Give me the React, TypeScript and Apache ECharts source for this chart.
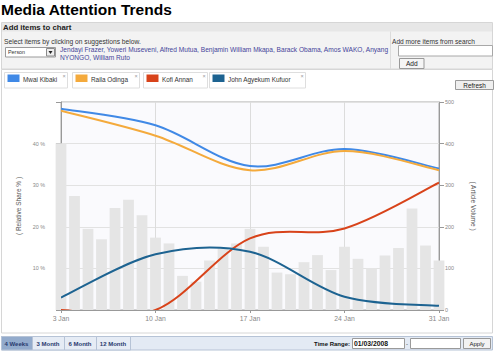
import React, { useEffect, useRef } from "react";
import * as echarts from "echarts";

const days = [
  "3 Jan", "4 Jan", "5 Jan", "6 Jan", "7 Jan", "8 Jan", "9 Jan", "10 Jan", "11 Jan", "12 Jan",
  "13 Jan", "14 Jan", "15 Jan", "16 Jan", "17 Jan", "18 Jan", "19 Jan", "20 Jan", "21 Jan", "22 Jan",
  "23 Jan", "24 Jan", "25 Jan", "26 Jan", "27 Jan", "28 Jan", "29 Jan", "30 Jan", "31 Jan",
];
const articleVolume = [
  401, 274, 195, 170, 245, 265, 228, 174, 160, 82, 68, 119, 148, 160, 195, 152, 90, 86, 115, 132,
  96, 152, 123, 101, 131, 149, 244, 155, 119,
];
// day index (from 3 Jan) of the weekly share readings: 3, 10, 17, 24, 31 Jan
const weekIndex = [0, 7, 14, 21, 28];
const kibaki = [48.4, 44.4, 34.6, 38.7, 34.0];
const raila = [47.9, 41.9, 33.6, 38.2, 33.6];
const annan = [0, 0, 17.2, 19.6, 30.6];
const kufuor = [3.0, 13.4, 14.0, 3.2, 1.0];

const seriesNames = ["Mwai Kibaki", "Raila Odinga", "Kofi Annan", "John Agyekum Kufuor"];
const seriesColors = ["#4089e6", "#f4aa3c", "#d8431a", "#1d6391"];
const leftTickLabels = ["", "10 %", "20 %", "30 %", "40 %", ""];
const rightTickLabels = ["0", "100", "200", "300", "400", "500"];
const suggestions1 = "Jendayi Frazer, Yoweri Museveni, Alfred Mutua, Benjamin William Mkapa, Barack Obama, Amos WAKO, Anyang";
const suggestions2 = "NYONGO, William Ruto";
const tabs = ["4 Weeks", "3 Month", "6 Month", "12 Month"];

const FONT = "Liberation Sans, Arial, sans-serif";

function txt(x: number, y: number, text: string, size: number, fill: string, opts: any = {}) {
  return {
    type: "text",
    x,
    y,
    silent: true,
    z: 10,
    style: {
      text,
      fontSize: size,
      fontFamily: FONT,
      fontWeight: opts.bold ? "bold" : "normal",
      fill,
      align: opts.align || "left",
      verticalAlign: "middle",
    },
  };
}
function box(x: number, y: number, w: number, h: number, fill: string, stroke?: string, z = 1) {
  return {
    type: "rect",
    silent: true,
    z,
    shape: { x, y, width: w, height: h },
    style: { fill, stroke: stroke || null, lineWidth: stroke ? 1 : 0 },
  };
}

// Catmull-Rom spline through pixel points (from the axes' scales) as an SVG path
function splinePath(p: number[][]) {
  let d = `M${p[0][0]},${p[0][1]}`;
  for (let i = 0; i < p.length - 1; i++) {
    const p0 = p[Math.max(i - 1, 0)];
    const p1 = p[i];
    const p2 = p[i + 1];
    const p3 = p[Math.min(i + 2, p.length - 1)];
    const c1x = p1[0] + (p2[0] - p0[0]) / 6;
    const c1y = p1[1] + (p2[1] - p0[1]) / 6;
    const c2x = p2[0] - (p3[0] - p1[0]) / 6;
    const c2y = p2[1] - (p3[1] - p1[1]) / 6;
    d += ` C${c1x},${c1y} ${c2x},${c2y} ${p2[0]},${p2[1]}`;
  }
  return d;
}

export default function App() {
  const ref = useRef<HTMLDivElement>(null);
  useEffect(() => {
    if (!ref.current) return;
    const chart = echarts.init(ref.current, undefined, { renderer: "svg" });

    const chipX = [
      [4, 67],
      [72, 139],
      [143, 207],
      [209, 305],
    ];
    const chips: any[] = [];
    seriesNames.forEach((n, i) => {
      const [a, b] = chipX[i];
      chips.push(box(a + 0.5, 72.5, b - a, 15.5, "#ffffff", "#dedede", 2));
      chips.push(box(a + 3.5, 74.5, 12, 7.5, seriesColors[i], undefined, 3));
      chips.push(txt(a + 19, 79.5, n, 6.4, "#333", {}));
      chips.push(txt(b - 3, 75.5, "×", 5.5, "#999", { align: "center" }));
    });

    const tabX = [
      [1, 32],
      [32, 64],
      [64, 96],
      [96, 130],
    ];
    const tabEls: any[] = [];
    tabs.forEach((t, i) => {
      const [a, b] = tabX[i];
      tabEls.push(box(a + 0.5, 336.5, b - a, 13.5, i === 0 ? "#93abcc" : "#e6ecf5", "#b6c3d6", 3));
      tabEls.push(txt((a + b) / 2, 343.5, t, 6, "#283a6e", { bold: true, align: "center" }));
    });

    const graphic: any[] = [
      txt(1, 9.5, "Media Attention Trends", 15.5, "#000", { bold: true }),
      box(1.5, 22.5, 491, 46.5, "#f3f3f3", "#d6d6d6", 1),
      box(2, 23, 490, 8.5, "#e7e7e7", undefined, 2),
      txt(3, 27, "Add items to chart", 7.8, "#222", { bold: true }),
      { type: "line", silent: true, z: 2, shape: { x1: 390.5, y1: 31.5, x2: 390.5, y2: 69 }, style: { stroke: "#dcdcdc", lineWidth: 1 } },
      txt(4, 41, "Select items by clicking on suggestions below.", 6.7, "#333"),
      box(5.5, 47.5, 50, 9.5, "#ffffff", "#9a9a9a", 2),
      txt(8, 52.3, "Person", 5.4, "#333"),
      box(46.5, 48.5, 8, 7.5, "#eeeeee", "#8a8a8a", 3),
      { type: "polygon", silent: true, z: 4, shape: { points: [[48.5, 51], [52.5, 51], [50.5, 54]] }, style: { fill: "#222" } },
      txt(60, 49, suggestions1, 6.6, "#45459a"),
      txt(60, 57, suggestions2, 6.6, "#45459a"),
      txt(392, 41, "Add more items from search", 6.6, "#333"),
      box(398.5, 45.5, 94, 10.5, "#ffffff", "#a8a8a8", 2),
      box(399.5, 58.5, 24.5, 10, "#f5f5f5", "#999999", 2),
      txt(411.8, 63.5, "Add", 6.6, "#222", { align: "center" }),
      box(1.5, 69.5, 491, 263.5, "rgba(0,0,0,0)", "#d6d6d6", 0),
      ...chips,
      box(455.5, 80.5, 38, 9, "#efefef", "#9a9a9a", 2),
      txt(474.5, 85, "Refresh", 6.4, "#222", { align: "center" }),
      box(1.5, 336.5, 491, 13.5, "#e3eaf4", "#b6c3d6", 2),
      ...tabEls,
      txt(350, 343.5, "Time Range:", 6, "#111", { bold: true, align: "right" }),
      box(352.5, 338.5, 52, 10, "#ffffff", "#9a9a9a", 3),
      txt(354, 343.5, "01/03/2008", 6.8, "#111", { bold: true }),
      txt(407, 343.5, "-", 6, "#333", { align: "center" }),
      box(410.5, 338.5, 50, 10, "#ffffff", "#9a9a9a", 3),
      box(463.5, 338.5, 27, 10, "#f2f2f2", "#999999", 3),
      txt(477, 343.5, "Apply", 6, "#222", { align: "center" }),
    ];

    const lineSeries = [kibaki, raila, annan, kufuor].map((w, i) => {
      const data = w.map((v, k) => [weekIndex[k], v]);
      return {
        name: seriesNames[i],
        type: "custom",
        xAxisIndex: 1,
        yAxisIndex: 0,
        data,
        clip: true,
        z: 3 + i,
        renderItem: (params: any, api: any) => {
          if (params.dataIndex !== 0) return { type: "group", children: [] };
          const pts = data.map((d) => api.coord(d));
          return {
            type: "path",
            shape: { pathData: splinePath(pts) },
            style: { fill: "none", stroke: seriesColors[i], lineWidth: 2 },
          };
        },
      };
    });

    chart.setOption({
      animation: false,
      graphic,
      grid: {
        left: 61,
        right: 61,
        top: 102,
        bottom: 43,
        show: true,
        backgroundColor: "#fafafd",
        borderColor: "#aaaaaa",
        borderWidth: 1,
      },
      xAxis: [
        {
          type: "category",
          data: days,
          boundaryGap: false,
          axisLine: { lineStyle: { color: "#999" } },
          axisTick: { interval: 6, length: 3, lineStyle: { color: "#999" } },
          axisLabel: { interval: 6, fontSize: 6.8, color: "#888", fontFamily: FONT, margin: 5 },
          splitLine: { show: true, interval: 6, lineStyle: { color: "#dcdcdc" } },
        },
        {
          type: "value",
          min: 0,
          max: days.length - 1,
          show: false,
          splitLine: { show: false },
        },
      ],
      yAxis: [
        {
          type: "value",
          min: 0,
          max: 50,
          interval: 10,
          position: "left",
          name: "( Relative Share % )",
          nameLocation: "middle",
          nameRotate: 90,
          nameGap: 33,
          nameTextStyle: { fontSize: 6.5, color: "#555", fontFamily: FONT },
          axisLine: { show: true, lineStyle: { color: "#999" } },
          axisTick: { show: true, length: 5, lineStyle: { color: "#999" } },
          axisLabel: {
            fontSize: 5.4,
            color: "#888",
            fontFamily: FONT,
            margin: 16,
            formatter: (v: number) => leftTickLabels[Math.round(v / 10)] ?? "",
          },
          splitLine: { show: true, lineStyle: { color: "#e2e2e2" } },
        },
        {
          type: "value",
          min: 0,
          max: 500,
          interval: 100,
          position: "right",
          name: "( Article Volume )",
          nameLocation: "middle",
          nameRotate: -90,
          nameGap: 31,
          nameTextStyle: { fontSize: 6.5, color: "#555", fontFamily: FONT },
          axisLine: { show: true, lineStyle: { color: "#999" } },
          axisTick: { show: true, length: 5, lineStyle: { color: "#999" } },
          axisLabel: {
            fontSize: 5.4,
            color: "#888",
            fontFamily: FONT,
            margin: 6,
            formatter: (v: number) => rightTickLabels[Math.round(v / 100)] ?? "",
          },
          splitLine: { show: false },
        },
      ],
      series: [
        {
          name: "Article Volume",
          type: "bar",
          xAxisIndex: 0,
          yAxisIndex: 1,
          data: articleVolume,
          barWidth: "80%",
          itemStyle: { color: "#e5e5e5" },
          z: 1,
        },
        ...lineSeries,
      ],
    });
    return () => chart.dispose();
  }, []);
  return (
    <div
      ref={ref}
      style={{ position: "fixed", left: 0, top: 0, width: 500, height: 353, background: "#fff" }}
    />
  );
}
